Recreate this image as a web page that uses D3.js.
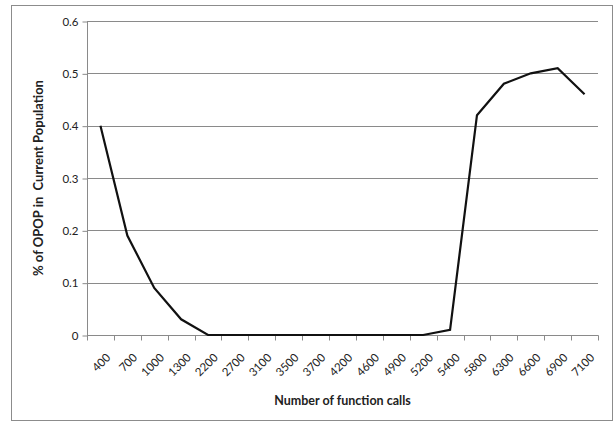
<!DOCTYPE html>
<html>
<head>
<meta charset="utf-8">
<script src="https://cdn.jsdelivr.net/npm/d3@7"></script>
<style>
  html, body { margin: 0; padding: 0; background: #fff; }
  svg { display: block; font-family: Lato, "Open Sans", sans-serif; }
</style>
</head>
<body>
<svg id="chart" width="616" height="423"></svg>
<script>
const categories = ["400","700","1000","1300","2200","2700","3100","3500","3700","4200","4600","4900","5200","5400","5800","6300","6600","6900","7100"];
const values = [0.40,0.19,0.09,0.03,0,0,0,0,0,0,0,0,0,0.01,0.42,0.48,0.50,0.51,0.46];
const yTicks = [0,0.1,0.2,0.3,0.4,0.5,0.6];
const yTickLabels = ["0","0.1","0.2","0.3","0.4","0.5","0.6"];
const xTitle = "Number of function calls";
const yTitle = "% of OPOP in  Current Population";

const svg = d3.select("#chart");
const pLeft = 87, pRight = 598, pTop = 21, pBottom = 335;

// outer border
svg.append("rect").attr("x", 11.5).attr("y", 5.5).attr("width", 601).attr("height", 415)
  .attr("fill", "#fff").attr("stroke", "#8c8c8c").attr("stroke-width", 1);

const x = d3.scaleBand().domain(categories).range([pLeft, pRight]).padding(0);
const y = d3.scaleLinear().domain([0, 0.6]).range([pBottom, pTop]);

// gridlines
svg.append("g").selectAll("line").data(yTicks.filter(d => d > 0)).join("line")
  .attr("x1", pLeft).attr("x2", pRight)
  .attr("y1", d => Math.round(y(d)) + 0.5).attr("y2", d => Math.round(y(d)) + 0.5)
  .attr("stroke", "#8a8a8a").attr("stroke-width", 1);

// y axis
const yAxis = d3.axisLeft(y).tickValues(yTicks).tickFormat((d, i) => yTickLabels[i]).tickSize(5).tickPadding(4);
const gy = svg.append("g").attr("transform", `translate(${pLeft + 0.5},0.5)`).call(yAxis);
gy.select(".domain").attr("stroke", "#8a8a8a").attr("d", `M0,${pTop}V${pBottom}`);
gy.selectAll(".tick line").attr("stroke", "#8a8a8a");
gy.selectAll(".tick text").attr("fill", "#222").style("font-size", "11.5px").style("font-family", "Lato, sans-serif");

// x axis with ticks at category boundaries
const gx = svg.append("g").attr("transform", `translate(0,${pBottom + 0.5})`);
gx.append("line").attr("x1", pLeft).attr("x2", pRight + 0.5).attr("stroke", "#8a8a8a");
const boundaries = categories.map(c => x(c)).concat([pRight]);
gx.selectAll("line.tk").data(boundaries).join("line").attr("class", "tk")
  .attr("x1", d => Math.round(d) + 0.5).attr("x2", d => Math.round(d) + 0.5)
  .attr("y1", 0).attr("y2", 5).attr("stroke", "#8a8a8a");
gx.selectAll("text").data(categories).join("text")
  .attr("transform", d => `translate(${x(d) + x.bandwidth() / 2 + 5},${17}) rotate(-45)`)
  .attr("text-anchor", "end").attr("dy", "0.7em")
  .attr("fill", "#222").style("font-size", "11.5px")
  .text(d => d);

// line
const line = d3.line().x((d, i) => x(categories[i]) + x.bandwidth() / 2).y(d => y(d));
svg.append("path").datum(values).attr("d", line)
  .attr("fill", "none").attr("stroke", "#111").attr("stroke-width", 2.2).attr("stroke-linejoin", "miter");

// titles
svg.append("text").attr("x", (pLeft + pRight) / 2).attr("y", 405)
  .attr("text-anchor", "middle").style("font-size", "12.5px").style("font-weight", "bold").attr("fill", "#222")
  .text(xTitle);
svg.append("text").attr("transform", `translate(43,${(pTop + pBottom) / 2}) rotate(-90)`)
  .attr("text-anchor", "middle").style("font-size", "13px").style("font-weight", "bold").attr("fill", "#222")
  .style("white-space", "pre").attr("xml:space", "preserve")
  .text(yTitle);
</script>
</body>
</html>
